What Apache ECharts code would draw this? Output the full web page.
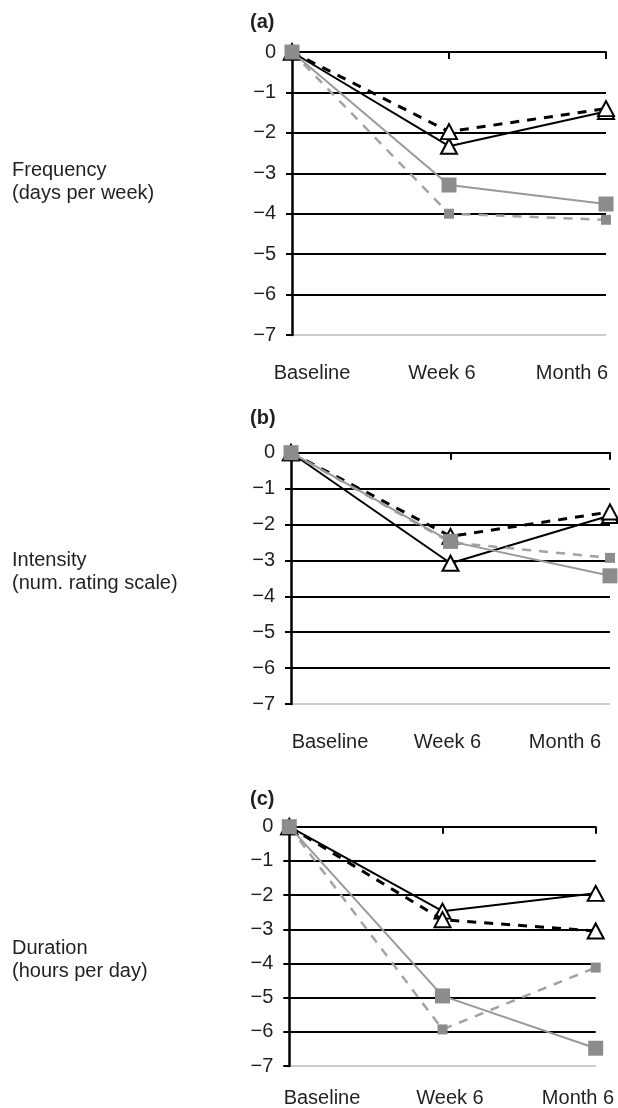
<!DOCTYPE html>
<html>
<head>
<meta charset="utf-8">
<script src="https://cdn.jsdelivr.net/npm/echarts@6/dist/echarts.min.js"></script>
<style>
html,body{margin:0;padding:0;background:#fff;}
#chart{width:618px;height:1108px;}
</style>
</head>
<body>
<div id="chart"></div>
<script>
// ---- data ----
const categories = ['Baseline', 'Week 6', 'Month 6'];
const yTickLabels = ['0', '\u22121', '\u22122', '\u22123', '\u22124', '\u22125', '\u22126', '\u22127'];
const panelTitles = ['(a)', '(b)', '(c)'];
const rowLabels = ['Frequency\n(days per week)', 'Intensity\n(num. rating scale)', 'Duration\n(hours per day)'];

const freqBlackSolid  = [0, -2.33, -1.47];
const freqBlackDashed = [0, -1.97, -1.40];
const freqGraySolid   = [0, -3.29, -3.76];
const freqGrayDashed  = [0, -4.00, -4.15];

const intBlackSolid   = [0, -3.08, -1.75];
const intBlackDashed  = [0, -2.33, -1.65];
const intGraySolid    = [0, -2.47, -3.43];
const intGrayDashed   = [0, -2.50, -2.93];

const durBlackSolid   = [0, -2.47, -1.95];
const durBlackDashed  = [0, -2.72, -3.05];
const durGraySolid    = [0, -4.95, -6.48];
const durGrayDashed   = [0, -5.93, -4.12];

const panelData = [
  [freqBlackSolid, freqBlackDashed, freqGraySolid, freqGrayDashed],
  [intBlackSolid, intBlackDashed, intGraySolid, intGrayDashed],
  [durBlackSolid, durBlackDashed, durGraySolid, durGrayDashed]
];

// ---- layout / style ----
const FONT = '"Liberation Sans", Arial, sans-serif';
const TXT = '#231f20';
const mainGrids = [
  {left: 292, top: 52, width: 314, height: 283},
  {left: 291, top: 452.7, width: 319, height: 251.3},
  {left: 289.3, top: 826.7, width: 306.4, height: 239.3}
];
const labelGrids = [
  {left: 312, top: 372.5, width: 260, height: 1},
  {left: 330, top: 741, width: 235, height: 1},
  {left: 322, top: 1098.5, width: 256, height: 1}
];
const titleTops = [12, 408, 789];
const rowTops = [159, 548.5, 936.5];

const seriesStyles = [
  {color: '#000', lineType: 'solid', width: 2, symbol: 'triangle', size: [16, 15], fill: '#fff', border: '#000', bw: 2, z: 3},
  {color: '#000', lineType: [9, 8], width: 3, symbol: 'triangle', size: [16, 15], fill: '#fff', border: '#000', bw: 2, z: 4},
  {color: '#999', lineType: 'solid', width: 2, symbol: 'rect', size: 15, fill: '#8c8c8c', border: '#8c8c8c', bw: 0, z: 6},
  {color: '#a3a3a3', lineType: [9, 8], width: 2.5, symbol: 'rect', size: 10, fill: '#8c8c8c', border: '#8c8c8c', bw: 0, z: 5}
];

const grid = [], xAxis = [], yAxis = [], series = [], title = [];
for (let p = 0; p < 3; p++) {
  grid.push(mainGrids[p]);
  xAxis.push({
    type: 'category', gridIndex: grid.length - 1, data: categories, boundaryGap: false,
    axisLine: {onZero: true, lineStyle: {color: '#000', width: 2}},
    axisTick: {show: true, length: 7, lineStyle: {color: '#000', width: 2}},
    axisLabel: {show: false}, splitLine: {show: false}
  });
  yAxis.push({
    type: 'value', gridIndex: grid.length - 1, min: -7, max: 0, interval: 1,
    axisLine: {show: true, onZero: false, lineStyle: {color: '#000', width: 2.5}},
    axisTick: {show: true, length: 6, lineStyle: {color: '#000', width: 2}},
    axisLabel: {margin: 16, fontSize: 20, fontFamily: FONT, color: TXT,
      formatter: v => yTickLabels[Math.round(-v)]},
    splitLine: {show: true, lineStyle: {width: 2,
      color: ['#cccccc', '#000', '#000', '#000', '#000', '#000', '#000', '#000']}}
  });
  const xi = xAxis.length - 1, yi = yAxis.length - 1;
  panelData[p].forEach((vals, s) => {
    const st = seriesStyles[s];
    series.push({
      type: 'line', xAxisIndex: xi, yAxisIndex: yi, data: vals,
      symbol: st.symbol, symbolSize: st.size,
      showSymbol: true, z: st.z,
      lineStyle: {color: st.color, width: st.width, type: st.lineType},
      itemStyle: {color: st.fill, borderColor: st.border, borderWidth: st.bw, opacity: 1},
      emphasis: {disabled: true}, silent: true
    });
  });
  // category label axis
  grid.push(labelGrids[p]);
  xAxis.push({
    type: 'category', gridIndex: grid.length - 1, data: categories, boundaryGap: false,
    position: 'bottom', axisLine: {show: false}, axisTick: {show: false},
    axisLabel: {margin: 0, verticalAlign: 'middle', fontSize: 20, fontFamily: FONT, color: TXT, interval: 0}
  });
  yAxis.push({type: 'value', gridIndex: grid.length - 1, show: false});

  title.push({
    text: panelTitles[p], left: 250, top: titleTops[p],
    textStyle: {fontSize: 20, fontWeight: 'bold', fontFamily: FONT, color: TXT, lineHeight: 20}
  });
  title.push({
    text: rowLabels[p], left: 12, top: rowTops[p],
    textStyle: {fontSize: 20, fontWeight: 'normal', fontFamily: FONT, color: TXT, lineHeight: 23}
  });
}

const chart = echarts.init(document.getElementById('chart'), null, {renderer: 'canvas'});
chart.setOption({
  animation: false,
  backgroundColor: '#fff',
  title: title.map(t => Object.assign({padding: 0}, t)),
  grid, xAxis, yAxis, series
});
</script>
</body>
</html>
